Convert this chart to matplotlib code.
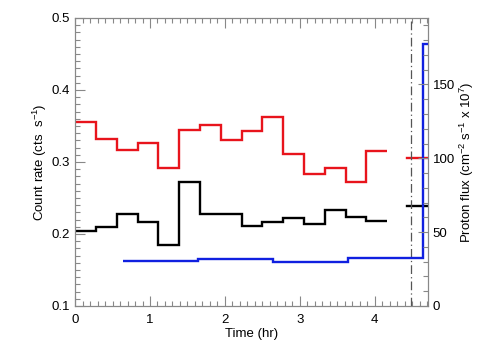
import matplotlib
matplotlib.use("Agg")
import matplotlib.pyplot as plt
import numpy as np
from matplotlib.ticker import MultipleLocator

plt.rcParams["font.family"] = ["Liberation Sans", "DejaVu Sans"]
plt.rcParams["mathtext.fontset"] = "custom"
plt.rcParams["mathtext.rm"] = "Liberation Sans"

# 1000 s bins, in hours
bin_hr = 1000.0 / 3600.0
red_rate = [0.355, 0.332, 0.317, 0.326, 0.291, 0.344, 0.352, 0.330,
            0.343, 0.363, 0.311, 0.284, 0.291, 0.272, 0.315]
black_rate = [0.204, 0.210, 0.228, 0.216, 0.185, 0.272, 0.228, 0.228,
              0.211, 0.216, 0.222, 0.214, 0.234, 0.223, 0.218]
red_mean = 0.3055
black_mean = 0.239
mean_span = [4.43, 4.72]

proton_edges = [0.645, 1.645, 2.645, 3.645, 4.645, 5.645]
proton_flux = [30.2, 32.0, 29.5, 32.6, 177.5]

marker_time = 4.49

gray = "#888888"

fig = plt.figure(figsize=(5.04, 3.6), dpi=100)
ax = fig.add_axes([0.149, 0.15, 0.7, 0.8])

edges = np.arange(len(red_rate) + 1) * bin_hr
ax.stairs(red_rate, edges, baseline=None, color="#e8141c", lw=1.7)
ax.stairs(black_rate, edges, baseline=None, color="black", lw=1.7)
ax.plot(mean_span, [red_mean, red_mean], color="#e8141c", lw=1.7)
ax.plot(mean_span, [black_mean, black_mean], color="black", lw=1.7)
ax.axvline(marker_time, color="#555555", lw=0.9, ls=(0, (7, 2.5, 1, 2.5)))

ax.set_xlim(0, 4.71)
ax.set_ylim(0.1, 0.5)
ax.xaxis.set_major_locator(MultipleLocator(1))
ax.xaxis.set_minor_locator(MultipleLocator(0.1))
ax.yaxis.set_minor_locator(MultipleLocator(0.01))
ax.set_yticks([0.1, 0.2, 0.3, 0.4, 0.5], ["0.1", "0.2", "0.3", "0.4", "0.5"])
ax.tick_params(which="both", direction="in", color=gray, top=True,
               labelsize=9.5, width=0.8)
ax.tick_params(which="major", length=7)
ax.tick_params(which="minor", length=3.5)
ax.tick_params(axis="x", pad=6)
for s in ax.spines.values():
    s.set_color(gray)
    s.set_linewidth(0.8)

ax.set_xlabel("Time (hr)", fontsize=9.5, labelpad=1)
ax.set_ylabel("Count rate (cts  s$^{-1}$)", fontsize=9.5, labelpad=2)

ax2 = ax.twinx()
ax2.stairs(proton_flux, proton_edges, baseline=None, color="#1020e0", lw=1.7)
ax2.set_ylim(0, 195)
ax2.yaxis.set_major_locator(MultipleLocator(50))
ax2.yaxis.set_minor_locator(MultipleLocator(10))
ax2.tick_params(which="both", direction="in", color=gray, labelsize=9.5, width=0.8)
ax2.tick_params(which="major", length=7)
ax2.tick_params(which="minor", length=3.5)
for s in ax2.spines.values():
    s.set_color(gray)
    s.set_linewidth(0.8)
ax2.set_ylabel("Proton flux (cm$^{-2}$ s$^{-1}$ x 10$^{7}$)", fontsize=9.5, labelpad=2)

fig.savefig("out.png", dpi=100)
